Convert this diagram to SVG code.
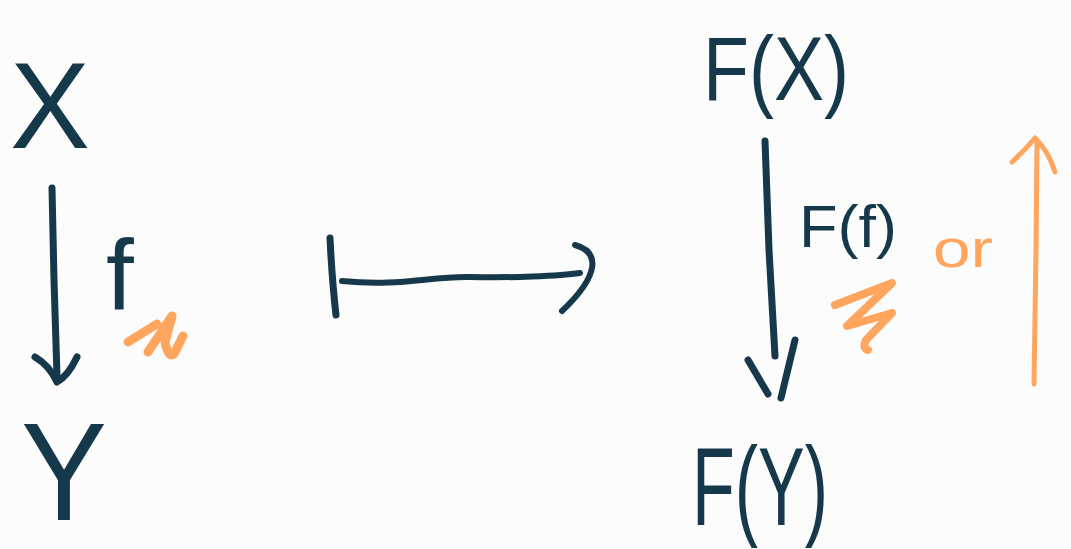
<svg xmlns="http://www.w3.org/2000/svg" width="1071" height="549" viewBox="0 0 1071 549">
<style>
.t{font-family:"Liberation Sans","DejaVu Sans",sans-serif;fill:#15394A}
.o{font-family:"Liberation Sans","DejaVu Sans",sans-serif;fill:#FFA55E}
.ink{fill:none;stroke:#15394A;stroke-linecap:round;stroke-linejoin:round}
.org{fill:none;stroke:#FFA55E;stroke-linecap:round;stroke-linejoin:round}
</style>
<rect width="1071" height="549" fill="#FCFCFC"/>
<g id="nodeX"><text class="t" x="10" y="148" font-size="123" textLength="80" lengthAdjust="spacingAndGlyphs">X</text></g>
<g id="nodeY"><text class="t" x="21" y="520" font-size="140" textLength="86" lengthAdjust="spacingAndGlyphs">Y</text></g>
<g id="nodeFX"><text class="t" x="703" y="100" font-size="90" textLength="146" lengthAdjust="spacingAndGlyphs">F(X)</text></g>
<g id="nodeFY"><text class="t" x="692" y="525" font-size="112" textLength="136" lengthAdjust="spacingAndGlyphs">F(Y)</text></g>
<g id="connectors">
<g id="arrow-f">
<path class="ink" stroke-width="7" d="M52,188 L54,280 L57,376"/>
<path class="ink" stroke-width="7" d="M35,357 Q50,366 57,382 Q68,376 77,357"/>
</g>
<g id="mapsto">
<path class="ink" stroke-width="7" d="M330,238 Q332,280 336,315"/>
<path class="ink" stroke-width="6" d="M342,281 C400,287 430,276 470,277 S560,276 580,273"/>
<path class="ink" stroke-width="6" d="M575,245 C600,252 600,275 562,311"/>
</g>
<g id="arrow-Ff">
<path class="ink" stroke-width="7" d="M765,141 L769,250 L775,356"/>
<path class="ink" stroke-width="7" d="M748,360 L768,394 M795,340 L781,398"/>
</g>
<g id="arrow-up">
<path class="org" stroke-width="5" d="M1034,384 L1036,250 L1037,142"/>
<path class="org" stroke-width="5" d="M1012,162 Q1025,150 1035,138 Q1048,150 1055,172"/>
</g>
</g>
<g id="labels">
<text class="t" x="106" y="310" font-size="100">f</text>
<path class="org" stroke-width="9" d="M128,342 L157,324 M148,352 L172,316 L165,342 Q168,358 174,354 L183,336"/>
<text class="t" x="799" y="247" font-size="60" textLength="98" lengthAdjust="spacingAndGlyphs">F(f)</text>
<path class="org" stroke-width="8" d="M835,305 L892,283 L847,326 L892,313 L866,340 Q862,348 868,350"/>
<text class="o" x="933" y="267" font-size="54" textLength="60" lengthAdjust="spacingAndGlyphs">or</text>
</g>
</svg>
